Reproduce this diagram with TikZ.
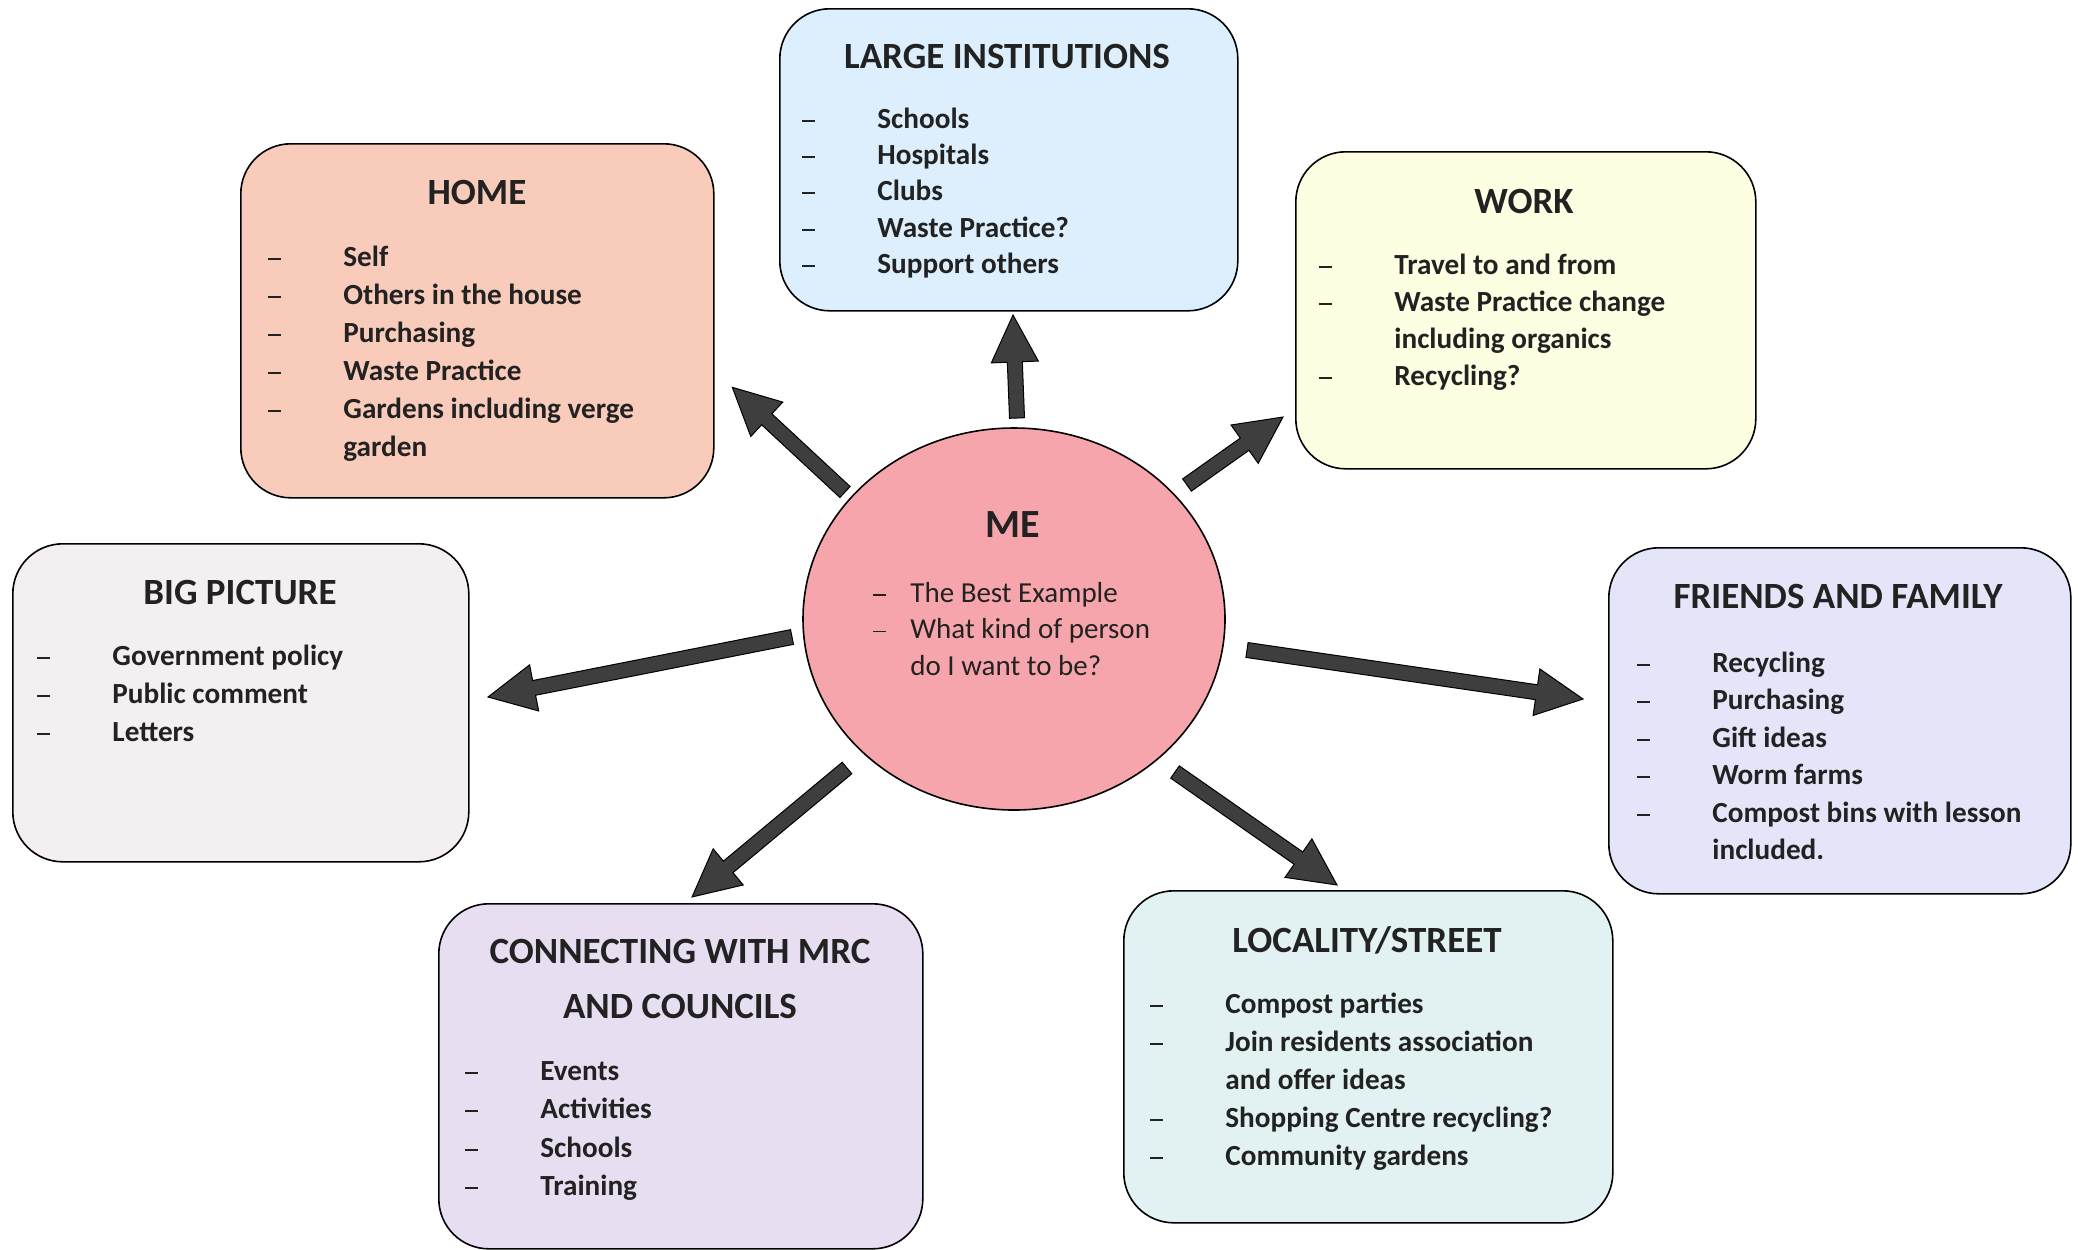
\documentclass[tikz,border=0pt]{standalone}
\usepackage{fontspec}
\setmainfont{Carlito}
\usetikzlibrary{calc,shapes.geometric}
\definecolor{cLI}{HTML}{DDEFFC}
\definecolor{cHome}{HTML}{F8CBBB}
\definecolor{cWork}{HTML}{FEFEE2}
\definecolor{cBig}{HTML}{F4EFF1}
\definecolor{cFriends}{HTML}{E5E5F9}
\definecolor{cLoc}{HTML}{E2F2F2}
\definecolor{cConn}{HTML}{E8DEF1}
\definecolor{cMe}{HTML}{F6A5AC}
\definecolor{arw}{HTML}{3E3E3E}
\definecolor{txt}{HTML}{222222}
\tikzset{
  box/.style={draw=black, line width=0.8pt, rounded corners=25pt, anchor=north west, inner sep=0pt},
  ttl/.style={font=\bfseries\fontsize{18.5}{22}\selectfont, anchor=base, inner sep=0pt, text=txt},
  lst/.style={anchor=base west, inner sep=0pt, text=txt, font=\bfseries},
  arrowsty/.style={fill=arw, draw=black, line width=0.5pt, line join=miter},
}
\newcommand\dsh{\rule[0.22em]{6.5pt}{1pt}}
\newcommand\blist[3]{{\fontsize{#1}{#2}\selectfont\begin{tabular}[t]{@{}p{37.5pt}@{}l@{}}#3\end{tabular}}}
\newcommand\fatarrow[2]{%
  \filldraw[arrowsty] let \p1=(#1), \p2=(#2), \n1={atan2(\y2-\y1,\x2-\x1)}, \n2={veclen(\x2-\x1,\y2-\y1)} in
  [shift={(\p1)}, rotate=\n1] (0pt,-3.75pt) -- ({(\n2-23.5)*1pt},-3.75pt) -- ({(\n2-23.5)*1pt},-11.75pt)
  -- ({\n2*1pt},0pt) -- ({(\n2-23.5)*1pt},11.75pt) -- ({(\n2-23.5)*1pt},3.75pt) -- (0pt,3.75pt) -- cycle;
}
\begin{document}
\begin{tikzpicture}[x=0.5pt,y=-0.5pt]
\fill[white] (0,0) rectangle (2078,1249);
\useasboundingbox (0,0) rectangle (2078,1249);

% boxes
\node[box, fill=cLI, minimum width=229pt, minimum height=151pt] (li) at (779,8) {};
\node[box, fill=cHome, minimum width=236.5pt, minimum height=177pt] (home) at (240,143) {};
\node[box, fill=cWork, minimum width=230pt, minimum height=158.5pt] (work) at (1295,151) {};
\node[box, fill=cBig, minimum width=228pt, minimum height=159pt] (big) at (12,543) {};
\node[box, fill=cFriends, minimum width=231pt, minimum height=173pt] (friends) at (1608,547) {};
\node[box, fill=cLoc, minimum width=244.5pt, minimum height=166pt] (loc) at (1123,890) {};
\node[box, fill=cConn, minimum width=242pt, minimum height=172.5pt] (conn) at (438,903) {};
\node[ellipse, draw=black, line width=0.8pt, fill=cMe, minimum width=211pt, minimum height=191pt, inner sep=0pt] (me) at (1014,619) {};

% titles
\node[ttl] (liT) at (1007,68) {LARGE INSTITUTIONS};
\node[ttl] (homeT) at (477,204) {HOME};
\node[ttl] (workT) at (1524,213) {WORK};
\node[ttl] (bigT) at (240,604) {BIG PICTURE};
\node[ttl] (friendsT) at (1838,608) {FRIENDS AND FAMILY};
\node[ttl] (locT) at (1367,952) {LOCALITY/STREET};
\node[ttl] (connT1) at (680,963) {CONNECTING WITH MRC};
\node[ttl] (connT2) at (680,1018) {AND COUNCILS};
\node[ttl, font=\bfseries\fontsize{20}{24}\selectfont] (meT) at (1013,537) {ME};

% lists
\node[lst] (liL) at (802,128) {\blist{14.6}{18.2}{\dsh&Schools\\\dsh&Hospitals\\\dsh&Clubs\\\dsh&Waste Practice?\\\dsh&Support others}};
\node[lst] (homeL) at (268,266) {\blist{14.6}{19}{\dsh&Self\\\dsh&Others in the house\\\dsh&Purchasing\\\dsh&Waste Practice\\\dsh&Gardens including verge\\&garden}};
\node[lst] (workL) at (1319,274) {\blist{14.6}{18.5}{\dsh&Travel to and from\\\dsh&Waste Practice change\\&including organics\\\dsh&Recycling?}};
\node[lst] (bigL) at (37,665) {\blist{14.6}{19}{\dsh&Government policy\\\dsh&Public comment\\\dsh&Letters}};
\node[lst] (friendsL) at (1637,672) {\blist{14.6}{18.75}{\dsh&Recycling\\\dsh&Purchasing\\\dsh&Gift ideas\\\dsh&Worm farms\\\dsh&Compost bins with lesson\\&included.}};
\node[lst] (locL) at (1150,1013) {\blist{14.6}{19}{\dsh&Compost parties\\\dsh&Join residents association\\&and offer ideas\\\dsh&Shopping Centre recycling?\\\dsh&Community gardens}};
\node[lst] (connL) at (465,1080) {\blist{14.6}{19.3}{\dsh&Events\\\dsh&Activities\\\dsh&Schools\\\dsh&Training}};
\node[lst, font=\mdseries] (meL) at (873,602) {{\fontsize{14.5}{18.3}\selectfont\begin{tabular}[t]{@{}p{18.5pt}@{}l@{}}\rule[0.22em]{6.5pt}{0.8pt}&The Best Example\\\rule[0.22em]{6.5pt}{0.8pt}&What kind of person\\&do I want to be?\end{tabular}}};

% arrows
\coordinate (a1t) at (1017,418); \coordinate (a1h) at (1013,315);
\coordinate (a2t) at (845,492);  \coordinate (a2h) at (732,387);
\coordinate (a3t) at (1187,485); \coordinate (a3h) at (1283,417);
\coordinate (a4t) at (792,637);  \coordinate (a4h) at (488,697);
\coordinate (a5t) at (1247,650); \coordinate (a5h) at (1583,699);
\coordinate (a6t) at (847,768);  \coordinate (a6h) at (692,897);
\coordinate (a7t) at (1175,772); \coordinate (a7h) at (1337,885);
\fatarrow{a1t}{a1h}
\fatarrow{a2t}{a2h}
\fatarrow{a3t}{a3h}
\fatarrow{a4t}{a4h}
\fatarrow{a5t}{a5h}
\fatarrow{a6t}{a6h}
\fatarrow{a7t}{a7h}
\end{tikzpicture}
\end{document}
